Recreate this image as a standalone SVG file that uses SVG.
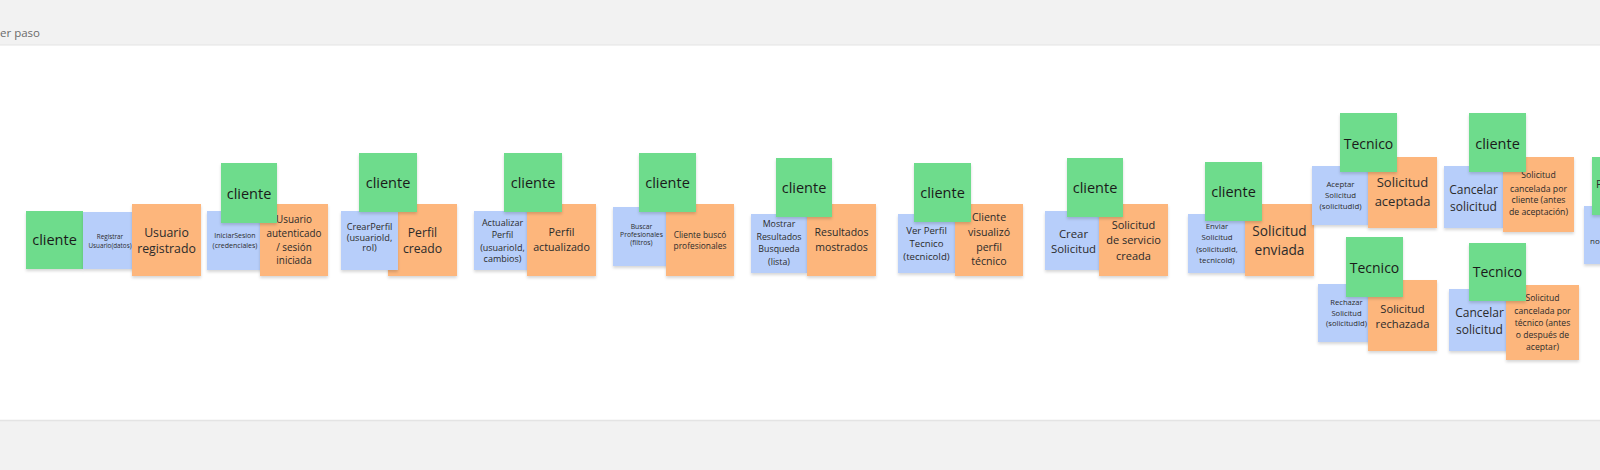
<svg xmlns="http://www.w3.org/2000/svg" width="1600" height="470" viewBox="0 0 1600 470">
<defs>
<filter id="sh" x="-20%" y="-20%" width="140%" height="150%">
<feDropShadow dx="0" dy="2" stdDeviation="1.6" flood-color="#000" flood-opacity="0.16"/>
</filter>
<style>
.g{fill:#6edc8c;filter:url(#sh)}
.b{fill:#b7cefa;filter:url(#sh)}
.o{fill:#fdb67c;filter:url(#sh)}
text{font-family:"Open Sans","Noto Sans","Liberation Sans",sans-serif;text-anchor:middle;dominant-baseline:central;fill:#2b2b2b}
.a{font-size:14.5px;fill:#1a1a1a}
.t{font-size:14px;fill:#1a1a1a}
.hdr{font-size:11.5px;fill:#6b6b6b;text-anchor:start}
</style>
</defs>
<rect x="0" y="0" width="1600" height="470" fill="#f2f2f2"/>
<rect x="0" y="45" width="1600" height="375" fill="#ffffff"/>
<line x1="0" y1="45" x2="1600" y2="45" stroke="#e4e4e4" stroke-width="1"/>
<line x1="0" y1="420.5" x2="1600" y2="420.5" stroke="#e4e4e4" stroke-width="1.5"/>
<text class="hdr" x="0" y="32">er paso</text>
<g id="connectors"/>

<g id="n1">
<rect class="g" x="26" y="211" width="57" height="58"/>
<text class="a" x="54.5" y="239">cliente</text>
<rect class="b" x="83" y="212" width="54" height="57"/>
<text font-size="6.3" x="110" y="236">Registrar</text>
<text font-size="6.3" x="110" y="245">Usuario(datos)</text>
<rect class="o" x="132" y="204" width="69" height="72"/>
<text font-size="12.3" x="166.5" y="232">Usuario</text>
<text font-size="12.3" x="166.5" y="248">registrado</text>
</g>

<g id="n2">
<rect class="b" x="207" y="211" width="56" height="59"/>
<text font-size="7" x="235" y="235">IniciarSesion</text>
<text font-size="7" x="235" y="245">(credenciales)</text>
<rect class="o" x="260" y="204" width="68" height="72"/>
<text font-size="9.9" x="294" y="219">Usuario</text>
<text font-size="9.9" x="294" y="233">autenticado</text>
<text font-size="9.9" x="294" y="247">/ sesión</text>
<text font-size="9.9" x="294" y="260">iniciada</text>
<rect class="g" x="221" y="163" width="56" height="60"/>
<text class="a" x="249" y="193">cliente</text>
</g>

<g id="n3">
<rect class="o" x="388" y="204" width="69" height="72"/>
<text font-size="12.2" x="422.5" y="232">Perfil</text>
<text font-size="12.2" x="422.5" y="248">creado</text>
<rect class="b" x="341" y="211" width="57" height="59"/>
<text font-size="9.2" x="369.5" y="226">CrearPerfil</text>
<text font-size="9.2" x="369.5" y="237">(usuarioId,</text>
<text font-size="9.2" x="369.5" y="247">rol)</text>
<rect class="g" x="359" y="153" width="58" height="59"/>
<text class="a" x="388" y="182">cliente</text>
</g>

<g id="n4">
<rect class="b" x="474" y="211" width="57" height="59"/>
<text font-size="9" x="502.5" y="222">Actualizar</text>
<text font-size="9" x="502.5" y="234">Perfil</text>
<text font-size="9" x="502.5" y="247">(usuarioId,</text>
<text font-size="9" x="502.5" y="258">cambios)</text>
<rect class="o" x="527" y="204" width="69" height="72"/>
<text font-size="10.7" x="561.5" y="232">Perfil</text>
<text font-size="10.7" x="561.5" y="247">actualizado</text>
<rect class="g" x="504" y="153" width="58" height="59"/>
<text class="a" x="533" y="182">cliente</text>
</g>

<g id="n5">
<rect class="b" x="613" y="207" width="57" height="59"/>
<text font-size="6.8" x="641.5" y="226">Buscar</text>
<text font-size="6.8" x="641.5" y="234">Profesionales</text>
<text font-size="6.8" x="641.5" y="242">(filtros)</text>
<rect class="o" x="666" y="204" width="68" height="72"/>
<text font-size="8.4" x="700" y="234">Cliente buscó</text>
<text font-size="8.4" x="700" y="245">profesionales</text>
<rect class="g" x="639" y="153" width="57" height="59"/>
<text class="a" x="667.5" y="182">cliente</text>
</g>

<g id="n6">
<rect class="b" x="751" y="214" width="56" height="59"/>
<text font-size="8.8" x="779" y="224">Mostrar</text>
<text font-size="8.8" x="779" y="237">Resultados</text>
<text font-size="8.8" x="779" y="249">Busqueda</text>
<text font-size="8.8" x="779" y="262">(lista)</text>
<rect class="o" x="807" y="204" width="69" height="72"/>
<text font-size="10.5" x="841.5" y="232">Resultados</text>
<text font-size="10.5" x="841.5" y="247">mostrados</text>
<rect class="g" x="776" y="158" width="56" height="59"/>
<text class="a" x="804" y="187">cliente</text>
</g>

<g id="n7">
<rect class="b" x="898" y="214" width="57" height="59"/>
<text font-size="9.6" x="926.5" y="230">Ver Perfil</text>
<text font-size="9.6" x="926.5" y="243">Tecnico</text>
<text font-size="9.6" x="926.5" y="256">(tecnicoId)</text>
<rect class="o" x="955" y="204" width="68" height="72"/>
<text font-size="10.6" x="989" y="217">Cliente</text>
<text font-size="10.6" x="989" y="232">visualizó</text>
<text font-size="10.6" x="989" y="247">perfil</text>
<text font-size="10.6" x="989" y="261">técnico</text>
<rect class="g" x="914" y="163" width="57" height="59"/>
<text class="a" x="942.5" y="192">cliente</text>
</g>

<g id="n8">
<rect class="b" x="1045" y="211" width="57" height="59"/>
<text font-size="11.4" x="1073.5" y="233">Crear</text>
<text font-size="11.4" x="1073.5" y="248">Solicitud</text>
<rect class="o" x="1099" y="204" width="69" height="72"/>
<text font-size="11" x="1133.5" y="224">Solicitud</text>
<text font-size="11" x="1133.5" y="239">de servicio</text>
<text font-size="11" x="1133.5" y="255">creada</text>
<rect class="g" x="1067" y="158" width="56" height="59"/>
<text class="a" x="1095" y="187">cliente</text>
</g>

<g id="n9">
<rect class="b" x="1188" y="214" width="58" height="59"/>
<text font-size="7.8" x="1217" y="226">Enviar</text>
<text font-size="7.8" x="1217" y="237">Solicitud</text>
<text font-size="7.8" x="1217" y="249">(solicitudId,</text>
<text font-size="7.8" x="1217" y="260">tecnicoId)</text>
<rect class="o" x="1245" y="204" width="69" height="72"/>
<text font-size="13.7" x="1279.5" y="230">Solicitud</text>
<text font-size="13.7" x="1279.5" y="249">enviada</text>
<rect class="g" x="1205" y="162" width="57" height="59"/>
<text class="a" x="1233.5" y="191">cliente</text>
</g>

<g id="n10">
<rect class="b" x="1312" y="166" width="57" height="59"/>
<text font-size="7.8" x="1340.5" y="184">Aceptar</text>
<text font-size="7.8" x="1340.5" y="195">Solicitud</text>
<text font-size="7.8" x="1340.5" y="206">(solicitudId)</text>
<rect class="o" x="1368" y="157" width="69" height="71"/>
<text font-size="13" x="1402.5" y="182">Solicitud</text>
<text font-size="13" x="1402.5" y="201">aceptada</text>
<rect class="g" x="1340" y="113" width="57" height="59"/>
<text class="t" x="1368.5" y="143">Tecnico</text>
</g>

<g id="n11">
<rect class="b" x="1444" y="166" width="59" height="62"/>
<text font-size="12" x="1473.5" y="189">Cancelar</text>
<text font-size="12" x="1473.5" y="206">solicitud</text>
<rect class="o" x="1503" y="157" width="71" height="75"/>
<text font-size="8.7" x="1538.5" y="175">Solicitud</text>
<text font-size="8.7" x="1538.5" y="189">cancelada por</text>
<text font-size="8.7" x="1538.5" y="200">cliente (antes</text>
<text font-size="8.7" x="1538.5" y="212">de aceptación)</text>
<rect class="g" x="1469" y="113" width="57" height="59"/>
<text class="a" x="1497.5" y="143">cliente</text>
</g>

<g id="n12">
<rect class="b" x="1318" y="284" width="57" height="58"/>
<text font-size="7.6" x="1346.5" y="302">Rechazar</text>
<text font-size="7.6" x="1346.5" y="313">Solicitud</text>
<text font-size="7.6" x="1346.5" y="323">(solicitudId)</text>
<rect class="o" x="1368" y="280" width="69" height="71"/>
<text font-size="11.2" x="1402.5" y="308">Solicitud</text>
<text font-size="11.2" x="1402.5" y="323">rechazada</text>
<rect class="g" x="1346" y="237" width="57" height="60"/>
<text class="t" x="1374.5" y="267">Tecnico</text>
</g>

<g id="n13">
<rect class="b" x="1449" y="289" width="61" height="62"/>
<text font-size="12" x="1479.5" y="312">Cancelar</text>
<text font-size="12" x="1479.5" y="329">solicitud</text>
<rect class="o" x="1506" y="285" width="73" height="75"/>
<text font-size="8.6" x="1542.5" y="298">Solicitud</text>
<text font-size="8.6" x="1542.5" y="311">cancelada por</text>
<text font-size="8.6" x="1542.5" y="323">técnico (antes</text>
<text font-size="8.6" x="1542.5" y="335">o después de</text>
<text font-size="8.6" x="1542.5" y="347">aceptar)</text>
<rect class="g" x="1469" y="243" width="57" height="58"/>
<text class="t" x="1497.5" y="271">Tecnico</text>
</g>

<g id="n14">
<rect class="b" x="1584" y="206" width="57" height="58"/>
<text font-size="8" x="1590" y="240" style="text-anchor:start">no</text>
<rect class="g" x="1592" y="157" width="57" height="58"/>
<text font-size="11" x="1596" y="183" style="text-anchor:start">P</text>
</g>
</svg>
